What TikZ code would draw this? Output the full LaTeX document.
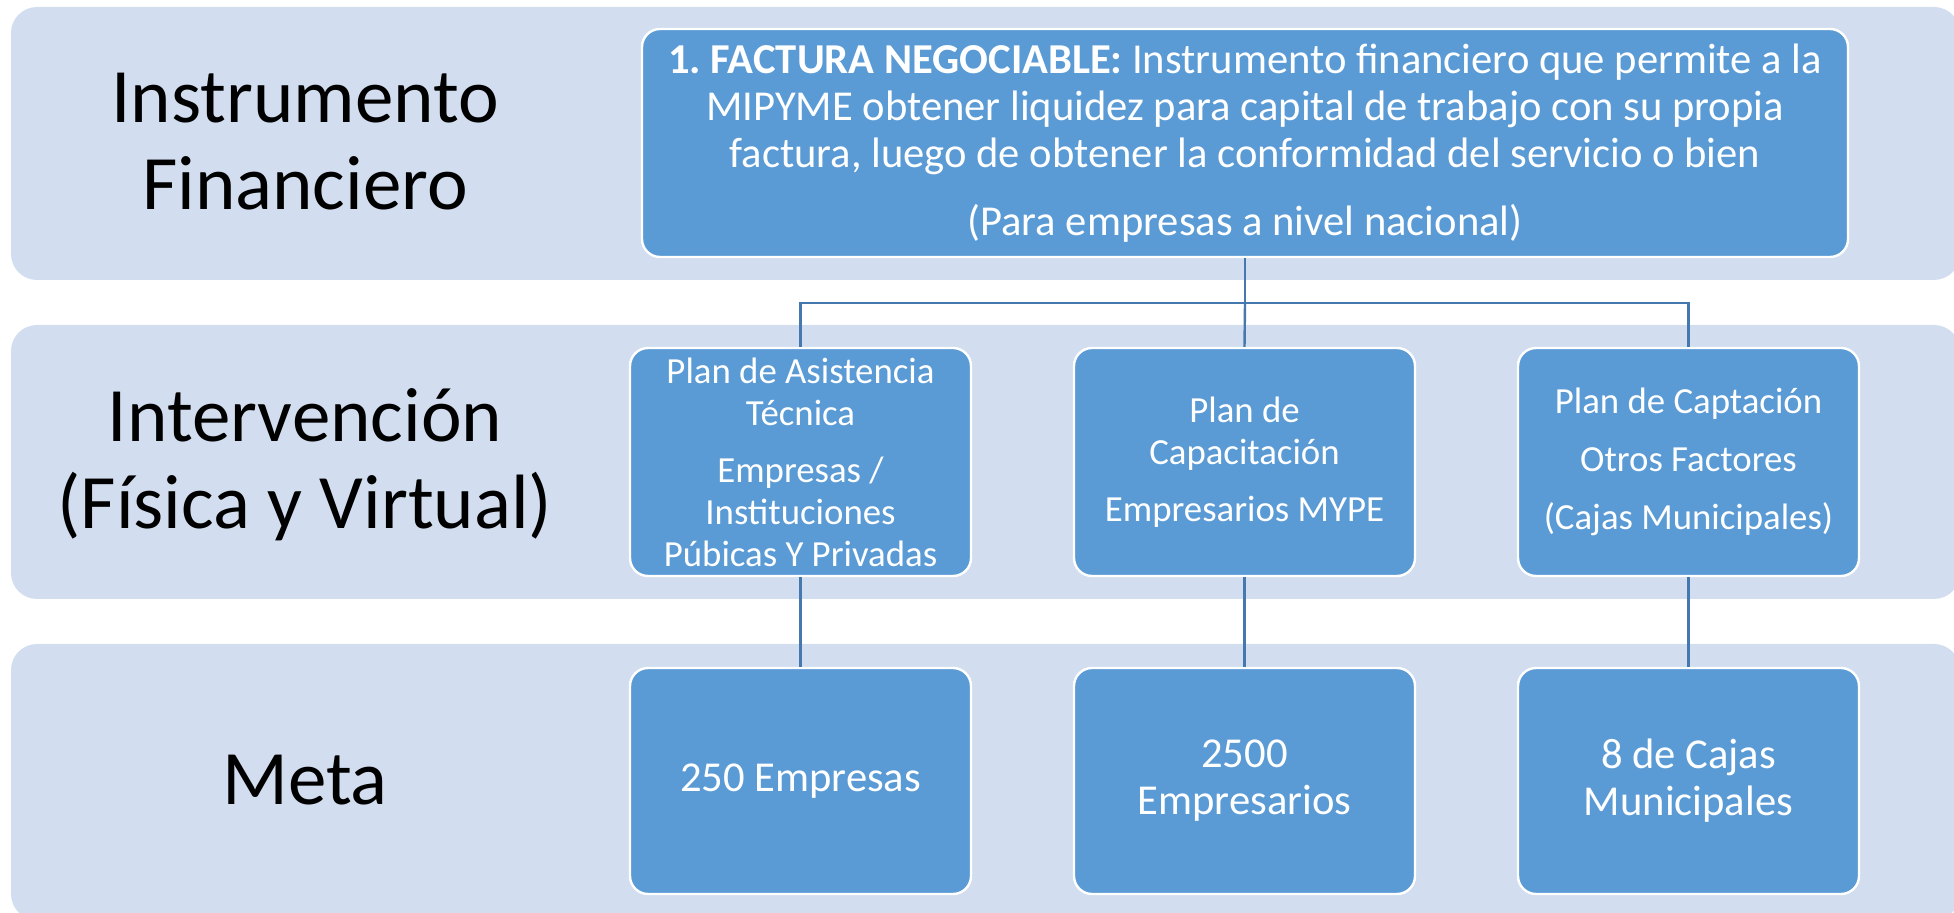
\documentclass[tikz,border=0pt]{standalone}
\usepackage{fontspec}
\setmainfont{Carlito}
\usepackage{xcolor}
\definecolor{bandblue}{RGB}{210,222,239}
\definecolor{boxblue}{RGB}{91,155,213}
\definecolor{linkblue}{RGB}{70,120,176}
\frenchspacing

\begin{document}
\begin{tikzpicture}[x=0.5pt,y=0.5pt,yscale=-1,
    band/.style={fill=bandblue, rounded corners=13pt},
    rowlabel/.style={align=center, text=black, font=\fontsize{38.5}{43.5}\selectfont},
    planbox/.style={draw=white, line width=1.2pt, fill=boxblue, rounded corners=9pt, text=white, align=center, minimum width=170.5pt, minimum height=114pt, inner sep=0pt, font=\fontsize{18.4}{21}\selectfont},
    metabox/.style={planbox, minimum height=113pt, font=\fontsize{21.3}{23.5}\selectfont},
    link/.style={draw=linkblue, line width=1.2pt}]

    \useasboundingbox (0,0) rectangle (1954,913);

    \fill [band] (11,7) rectangle (1960,280);
    \fill [band] (11,325) rectangle (1960,599);
    \fill [band] (11,644) rectangle (1960,920);

    \draw (305,142) node [rowlabel] (lfin) {Instrumento\\Financiero};
    \draw (305,465) node [rowlabel] (lint) {Intervención\\(Física y Virtual)};
    \draw (305,780) node [rowlabel] (lmeta) {Meta};

    \draw (1245,143) node [planbox, minimum width=603pt, font=\fontsize{21.3}{23.5}\selectfont] (fni) {\textbf{1. FACTURA NEGOCIABLE:} Instrumento financiero que permite a la\\MIPYME obtener liquidez para capital de trabajo con su propia\\factura, luego de obtener la conformidad del servicio o bien\\[10.5pt](Para empresas a nivel nacional)};
    \draw (800.5,462) node [planbox] (pasist) {Plan de Asistencia\\Técnica\\[7.5pt]Empresas /\\Instituciones\\Púbicas Y Privadas};
    \draw (1244.5,462) node [planbox] (pcapac) {Plan de\\Capacitación\\[7.5pt]Empresarios MYPE};
    \draw (1688.5,462) node [planbox] (pcapt) {Plan de Captación\\[8pt]Otros Factores\\[8pt](Cajas Municipales)};
    \draw (800.5,781) node [metabox] (mempr) {250 Empresas};
    \draw (1244.5,781) node [metabox] (mempres) {2500\\Empresarios};
    \draw (1688.5,781) node [metabox] (mcajas) {8 de Cajas\\Municipales};

    \coordinate (hub) at (1245,303);
    \draw [link] (fni.south) -- (hub) -| (pasist.north);
    \draw [link] (hub) -- (pcapac.north);
    \draw [link] (hub) -| (pcapt.north);
    \draw [link] (pasist) -- (mempr);
    \draw [link] (pcapac) -- (mempres);
    \draw [link] (pcapt) -- (mcajas);

\end{tikzpicture}
\end{document}
